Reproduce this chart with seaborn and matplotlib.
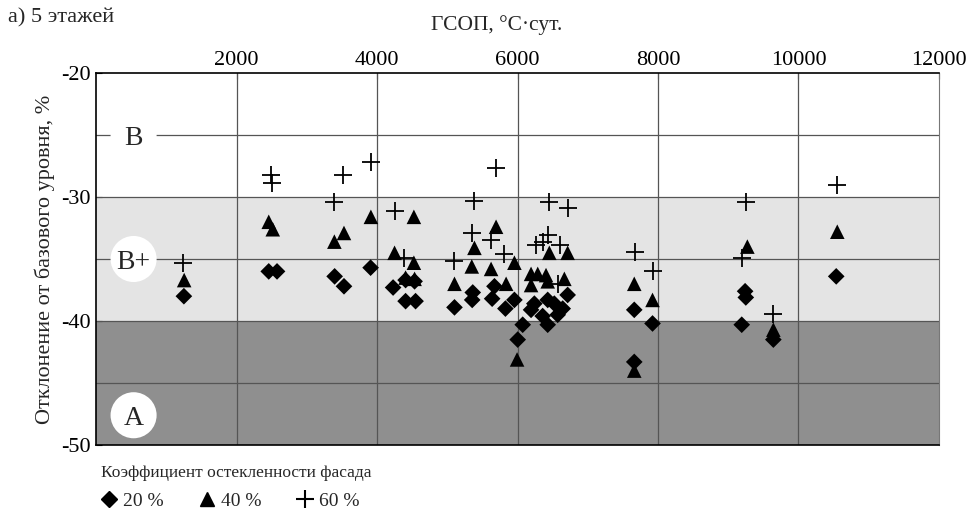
import matplotlib
matplotlib.use("Agg")
import matplotlib.pyplot as plt
from matplotlib.lines import Line2D
import seaborn as sns
import pandas as pd

# ---- data ----
x20 = [1251, 2459, 2577, 3397, 3530, 3909, 4229, 4407, 4535, 4407, 4549, 5103, 5363, 5355,
       5672, 5639, 5828, 5956, 6074, 6003, 6240, 6430, 6193, 6643, 6358, 6572, 6430, 6524,
       6714, 7662, 7922, 7662, 9240, 9250, 9192, 9642, 10537]
y20 = [-38.0, -36.0, -36.0, -36.4, -37.2, -35.7, -37.3, -36.7, -36.8, -38.4, -38.4, -38.9, -37.7, -38.3,
       -37.2, -38.2, -39.0, -38.3, -40.3, -41.5, -38.6, -38.3, -39.1, -39.0, -39.6, -39.5, -40.3, -38.6,
       -37.9, -39.1, -40.2, -43.3, -37.6, -38.1, -40.3, -41.5, -36.4]

x40 = [1255, 2459, 2516, 3393, 3530, 3913, 4250, 4407, 4535, 4525, 4525, 5103, 5349, 5387,
       5695, 5624, 5838, 5956, 5994, 6193, 6288, 6406, 6667, 6193, 6430, 6453, 6714, 7662,
       7922, 7662, 9272, 9642, 10552]
y40 = [-36.7, -32.0, -32.6, -33.6, -32.9, -31.6, -34.5, -36.5, -36.6, -35.3, -31.6, -37.0, -35.6, -34.1,
       -32.4, -35.8, -37.0, -35.3, -43.1, -36.2, -36.2, -36.3, -36.6, -37.1, -36.8, -34.5, -34.5, -37.0,
       -38.3, -44.0, -34.0, -40.7, -32.8]

x60 = [1241, 2497, 2511, 3393, 3515, 3909, 4260, 4383, 5103, 5349, 5387, 5624, 5695, 5814,
       6264, 6358, 6430, 6453, 6610, 6714, 6572, 7676, 7932, 9192, 9248, 9642, 10543]
y60 = [-35.3, -28.2, -28.9, -30.4, -28.2, -27.2, -31.1, -34.9, -35.2, -32.9, -30.3, -33.5, -27.7, -34.6,
       -33.9, -33.6, -33.1, -30.4, -33.9, -30.9, -37.0, -34.4, -36.0, -34.9, -30.4, -39.4, -29.0]

series_labels = ["20 %", "40 %", "60 %"]
x_ticks = [2000, 4000, 6000, 8000, 10000, 12000]
y_ticks = [-20, -30, -40, -50]
zone_labels = ["В", "В+", "А"]
zone_x = [535, 535, 535]
zone_y = [-25.0, -35.0, -47.6]

title_text = "а) 5 этажей"
xlabel_text = "ГСОП, °С·сут."
ylabel_text = "Отклонение от базового уровня, %"
legend_title = "Коэффициент остекленности фасада"

# ---- style ----
sns.set_style("white")
plt.rcParams["font.family"] = ["Liberation Serif", "DejaVu Serif"]

fig = plt.figure(figsize=(9.71, 5.11), dpi=100)
ax = fig.add_axes([96 / 971, 1 - 445 / 511, (939 - 96) / 971, (445 - 73) / 511])

# bands
ax.axhspan(-40, -30, color="#e4e4e4", zorder=0, lw=0)
ax.axhspan(-50, -40, color="#8f8f8f", zorder=0, lw=0)

# grid
for gx in [2000, 4000, 6000, 8000, 10000]:
    ax.axvline(gx, color="#555555", lw=0.9, zorder=1)
for gy in [-25, -30, -35, -40, -45]:
    ax.axhline(gy, color="#555555", lw=0.9, zorder=1)

df20 = pd.DataFrame({"x": x20, "y": y20})
df40 = pd.DataFrame({"x": x40, "y": y40})
df60 = pd.DataFrame({"x": x60, "y": y60})
dfz = pd.DataFrame({"x": zone_x, "y": zone_y})

sns.scatterplot(data=df40, x="x", y="y", marker="^", s=110, color="black",
                edgecolor="none", ax=ax, zorder=3)
sns.scatterplot(data=df20, x="x", y="y", marker="D", s=72, color="black",
                edgecolor="none", ax=ax, zorder=4)
sns.scatterplot(data=df60, x="x", y="y", marker="+", s=160, color="black",
                linewidth=1.3, ax=ax, zorder=5)

# zone labels with white circles
sns.scatterplot(data=dfz, x="x", y="y", marker="o", s=1100, color="white",
                edgecolor="none", ax=ax, zorder=6, clip_on=False)
for lab, zx, zy in zip(zone_labels, zone_x, zone_y):
    ax.text(zx, zy, lab, fontsize=20, ha="center", va="center_baseline", zorder=7)

ax.set_xlim(0, 12000)
ax.set_ylim(-50, -20)
ax.xaxis.tick_top()
ax.set_xticks(x_ticks)
ax.set_xticklabels([str(t) for t in x_ticks])
ax.set_yticks(y_ticks)
ax.set_yticklabels([str(t) for t in y_ticks])
ax.tick_params(axis="both", labelsize=16, direction="in", length=4, width=0.8,
               colors="black", pad=3)
ax.tick_params(axis="x", top=True, bottom=False, labeltop=True, labelbottom=False, pad=2)
ax.tick_params(axis="y", left=True, right=False, pad=4)
ax.set_xlabel("")
ax.set_ylabel(ylabel_text, fontsize=16, labelpad=4)

for side in ["left", "top", "bottom"]:
    ax.spines[side].set_color("black")
    ax.spines[side].set_linewidth(1.2)
ax.spines["right"].set_color("#777777")
ax.spines["right"].set_linewidth(0.8)

fig.text(497 / 971, 1 - 25 / 511, xlabel_text, fontsize=15.5, ha="center", va="center")
fig.text(8 / 971, 1 - 18 / 511, title_text, fontsize=16, ha="left", va="center")

handles = [
    Line2D([], [], marker="D", color="black", ls="none", markersize=8),
    Line2D([], [], marker="^", color="black", ls="none", markersize=10),
    Line2D([], [], marker="+", color="black", ls="none", markersize=13, markeredgewidth=1.5),
]
leg = fig.legend(handles, series_labels, title=legend_title, ncol=3, frameon=False,
                 loc="upper left", bbox_to_anchor=(101 / 971, 1 - 465 / 511),
                 fontsize=14, title_fontsize=12.5, handlelength=0.8, handletextpad=0.35,
                 columnspacing=1.8, borderaxespad=0, borderpad=0, labelspacing=0.6)
leg._legend_box.align = "left"

fig.savefig("out.png", dpi=100)
